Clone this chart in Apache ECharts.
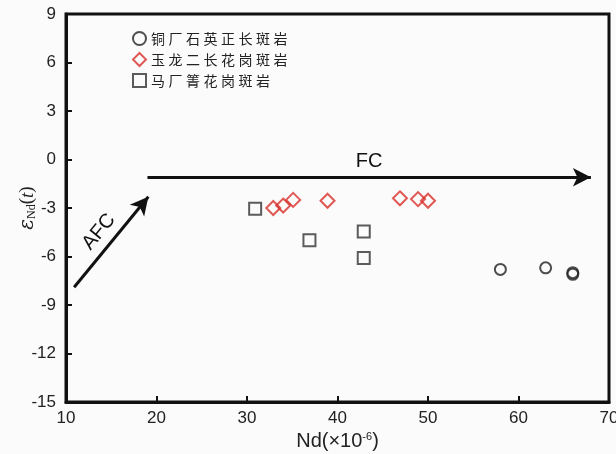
<!DOCTYPE html>
<html><head><meta charset="utf-8">
<script src="https://cdn.jsdelivr.net/npm/echarts@6/dist/echarts.min.js"></script>
<style>html,body{margin:0;padding:0;background:#fbfbfb}#c{width:616px;height:454px}</style>
</head><body><div id="c"></div>
<script>
const seriesNames = ['铜厂石英正长斑岩', '玉龙二长花岗斑岩', '马厂箐花岗斑岩'];
const tongchang = [[58, -6.8], [63, -6.7], [66, -7.0], [66, -7.1]];
const yulong = [[32.9, -3.0], [34.0, -2.85], [35.1, -2.5], [38.9, -2.55], [46.9, -2.4], [48.9, -2.45], [50.0, -2.55]];
const machangqing = [[30.9, -3.05], [36.9, -5.0], [42.9, -4.45], [42.9, -6.1]];
const fcArrow = [[19.0, -1.1], [68.0, -1.1]];
const afcArrow = [[10.9, -7.9], [19.1, -2.3]];
const xTicks = [10, 20, 30, 40, 50, 60, 70];
const yTicks = [-15, -12, -9, -6, -3, 0, 3, 6, 9];

const chart = echarts.init(document.getElementById('c'));
const font = 'Liberation Sans, Arial, sans-serif';
const hollow = (c) => ({ color: 'rgba(0,0,0,0)', borderColor: c, borderWidth: 2 });
chart.setOption({
  backgroundColor: '#fbfbfb',
  animation: false,
  grid: { left: 66, right: 7, top: 14, bottom: 52, outerBoundsMode: 'none', containLabel: false, show: true, borderColor: '#111', borderWidth: 3, backgroundColor: 'transparent' },
  legend: {
    orient: 'vertical', left: 127, top: 26, itemGap: 6, itemWidth: 13, itemHeight: 13,
    formatter: (n) => n.split('').map(ch => '{c|' + ch + '}').join(''),
    textStyle: { fontFamily: 'Noto Sans CJK SC', fontSize: 14, color: '#222',
      rich: { c: { fontFamily: 'Noto Sans CJK SC', fontSize: 14, color: '#222', padding: [0, 3.5, 0, 0] } } },
    data: seriesNames
  },
  xAxis: {
    type: 'value', min: xTicks[0], max: xTicks[xTicks.length - 1], interval: 10,
    splitLine: { show: false },
    axisLine: { onZero: false, lineStyle: { color: '#111', width: 3 } },
    axisTick: { inside: true, length: 6, lineStyle: { color: '#111', width: 2 } },
    axisLabel: { fontFamily: font, fontSize: 17, color: '#222', margin: 8 },
    name: '{a|Nd(×10}{s|-6}{a|)}', nameLocation: 'middle', nameGap: 29, nameMoveOverlap: false,
    nameTextStyle: { rich: { a: { fontFamily: font, fontSize: 20, color: '#222' }, s: { fontFamily: font, fontSize: 11, color: '#222', verticalAlign: 'top', padding: [0, 0, 10, 0] } } }
  },
  yAxis: {
    type: 'value', min: yTicks[0], max: yTicks[yTicks.length - 1], interval: 3,
    splitLine: { show: false },
    axisLine: { onZero: false, lineStyle: { color: '#111', width: 3 } },
    axisTick: { inside: true, length: 6, lineStyle: { color: '#111', width: 2 } },
    axisLabel: { fontFamily: font, fontSize: 17, color: '#222', margin: 10 },
    name: '{e|ε}{n|Nd}{p|(}{t|t}{p|)}', nameLocation: 'middle', nameGap: 28, nameRotate: 90, nameMoveOverlap: false,
    nameTextStyle: { rich: {
      e: { fontFamily: 'DejaVu Serif', fontStyle: 'italic', fontSize: 20, color: '#222' },
      n: { fontFamily: 'Liberation Serif', fontSize: 12, color: '#222', padding: [9, 0, 0, 0] },
      p: { fontFamily: 'Liberation Serif', fontSize: 19, color: '#222' },
      t: { fontFamily: 'Liberation Serif', fontStyle: 'italic', fontSize: 19, color: '#222' }
    } }
  },
  series: [
    { name: seriesNames[0], type: 'scatter', symbol: 'circle', symbolSize: 11, itemStyle: hollow('#222'), data: tongchang, z: 5 },
    { name: seriesNames[1], type: 'scatter', symbol: 'diamond', symbolSize: 14, itemStyle: hollow('#d8302a'), data: yulong, z: 5 },
    { name: seriesNames[2], type: 'scatter', symbol: 'rect', symbolSize: 12, itemStyle: hollow('#333'), data: machangqing, z: 5 },
    { type: 'line', data: [], silent: true,
      markLine: {
        silent: true, symbol: ['none', 'arrow'], symbolSize: [14, 18], animation: false,
        lineStyle: { color: '#111', width: 3, type: 'solid' },
        label: { show: true, position: 'insideMiddleTop', fontFamily: font, fontSize: 20, color: '#111', distance: 6 },
        data: [
          [{ coord: fcArrow[0], label: { formatter: 'FC' } }, { coord: fcArrow[1] }],
          [{ coord: afcArrow[0], label: { formatter: 'AFC' } }, { coord: afcArrow[1] }]
        ]
      }
    }
  ]
});
</script></body></html>
